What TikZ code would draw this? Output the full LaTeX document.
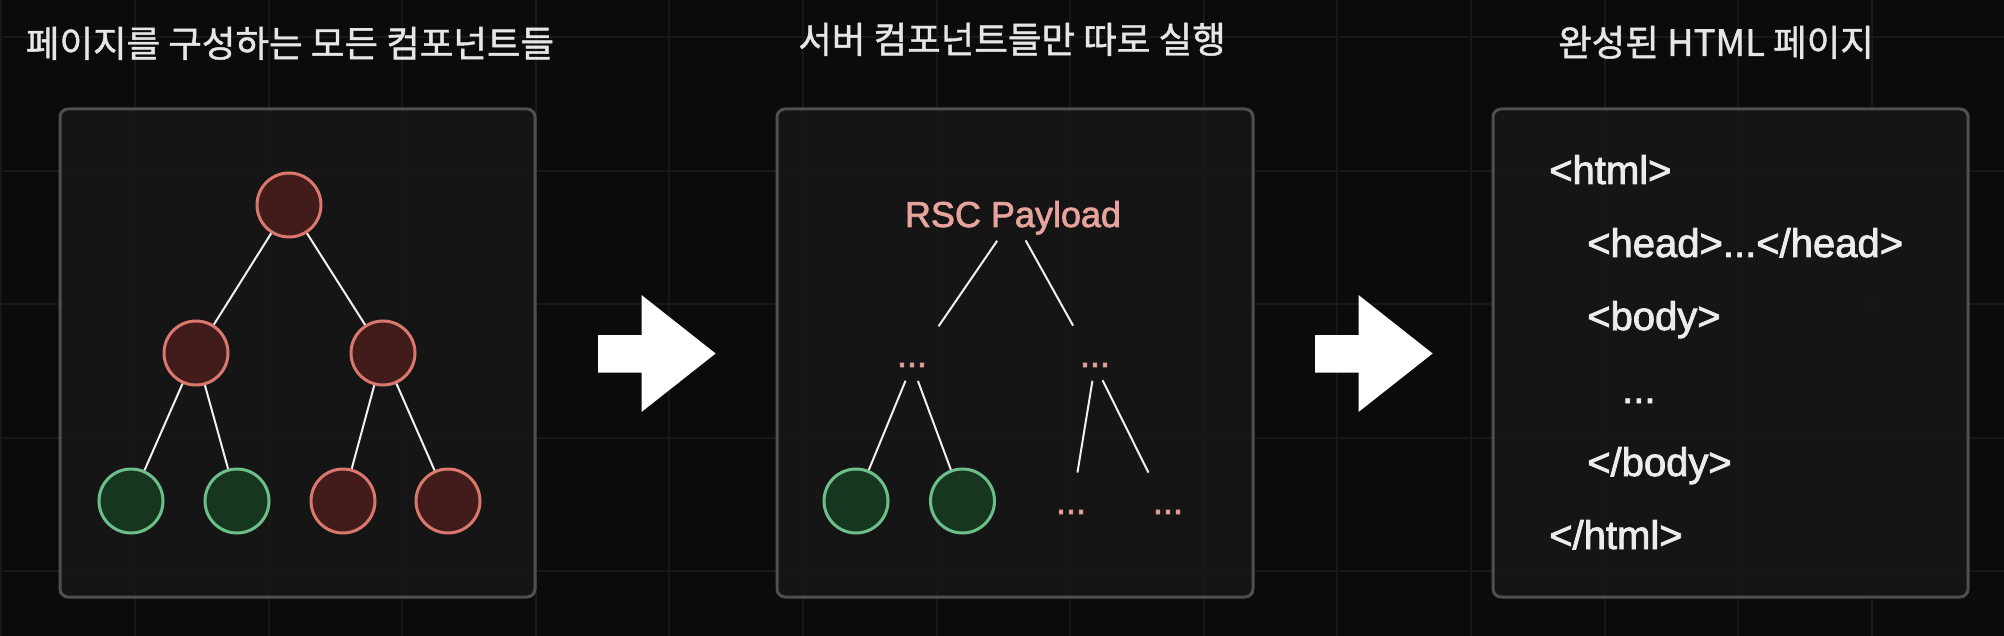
\documentclass[tikz,border=0pt]{standalone}
\usepackage{fontspec}
\setmainfont{Liberation Sans}[FakeBold=2]
\newfontfamily\krfont{Noto Sans CJK KR}[FakeBold=1.2]
\definecolor{bgcol}{HTML}{0B0B0B}
\definecolor{gridcol}{HTML}{181818}
\definecolor{panelfill}{HTML}{171717}
\definecolor{panelline}{HTML}{4F4F4F}
\definecolor{titlecol}{HTML}{E6E6E6}
\definecolor{codecol}{HTML}{ECECEC}
\definecolor{pinkcol}{HTML}{E8A39D}
\definecolor{redline}{HTML}{DA786D}
\definecolor{redfill}{HTML}{421C1A}
\definecolor{greenline}{HTML}{6DBF89}
\definecolor{greenfill}{HTML}{163620}
\tikzset{
  panel/.style={draw=panelline,line width=3pt,fill=panelfill,fill opacity=0.9,rounded corners=8pt},
  title/.style={text=titlecol,anchor=base,inner sep=0pt,font=\krfont\fontsize{36.5}{44}\selectfont},
  comp/.style={circle,draw=redline,fill=redfill,line width=3pt,minimum size=64pt,inner sep=0pt},
  srv/.style={comp,draw=greenline,fill=greenfill},
  edge/.style={draw=white!94!black,line width=2pt},
  payload/.style={text=pinkcol,font=\fontsize{36}{43}\selectfont},
  code/.style={text=codecol,anchor=base west,inner sep=0pt,font=\fontsize{40}{48}\selectfont},
  bigarrow/.style={fill=white}
}
\begin{document}
\begin{tikzpicture}[x=1pt,y=-1pt]
  \fill[bgcol] (0,0) rectangle (2004,636);
  \useasboundingbox (0,0) rectangle (2004,636);
  \draw[gridcol,line width=2pt,shift={(1.4,37)},step=133.6pt] (-1.4,599) grid (2002.6,-37);
  % titles
  \node[title] (t1) at (290,57) {페이지를 구성하는 모든 컴포넌트들};
  \node[title] (t2) at (1012,53) {서버 컴포넌트들만 따로 실행};
  \node[title] (t3) at (1716,56) {완성된 HTML 페이지};
  % panels
  \draw[panel] (60,109) rectangle (535,597);
  \draw[panel] (777,109) rectangle (1253,597);
  \draw[panel] (1493,109) rectangle (1968,597);
  % all components
  \node[comp] (root) at (289,205) {};
  \node[comp] (l) at (196,353) {};
  \node[comp] (r) at (383,353) {};
  \node[srv]  (ll) at (131,501) {};
  \node[srv]  (lr) at (237,501) {};
  \node[comp] (rl) at (343,501) {};
  \node[comp] (rr) at (448,501) {};
  \draw[edge] (root) -- (l);
  \draw[edge] (root) -- (r);
  \draw[edge] (l) -- (ll);
  \draw[edge] (l) -- (lr);
  \draw[edge] (r) -- (rl);
  \draw[edge] (r) -- (rr);
  % server components only
  \node[payload,anchor=base] (rsc) at (1013,227) {RSC Payload};
  \node[payload,inner sep=0pt] (ld) at (912,365) {...};
  \node[payload,inner sep=0pt] (rd) at (1095,365) {...};
  \node[srv] (g1) at (856,501) {};
  \node[srv] (g2) at (962.5,501) {};
  \node[payload,inner sep=0pt] (lb) at (1071,512) {...};
  \node[payload,inner sep=0pt] (rb) at (1168,512) {...};
  \draw[edge,shorten <=28pt,shorten >=47pt] (rsc.center) -- (ld.center);
  \draw[edge,shorten <=26pt,shorten >=45pt] (rsc.center) -- (rd.center);
  \draw[edge,shorten <=17pt] (ld.center) -- (g1);
  \draw[edge,shorten <=17pt] (ld.center) -- (g2);
  \draw[edge,shorten <=16pt,shorten >=40pt] (rd.center) -- (lb.center);
  \draw[edge,shorten <=17pt,shorten >=44pt] (rd.center) -- (rb.center);
  % html page
  \node[code] (l1) at (1549,184) {<html>};
  \node[code] (l2) at (1587,257) {<head>...</head>};
  \node[code] (l3) at (1587,330) {<body>};
  \node[code] (l4) at (1622,403) {...};
  \node[code] (l5) at (1587,476) {</body>};
  \node[code] (l6) at (1549,549) {</html>};
  % arrows
  \fill[bigarrow] (598,335) -- (641.5,335) -- (641.5,295) -- (715.6,353.5)
    -- (641.5,412) -- (641.5,372.5) -- (598,372.5) -- cycle;
  \begin{scope}[xshift=717pt]
   \fill[bigarrow] (598,335) -- (641.5,335) -- (641.5,295) -- (715.6,353.5)
     -- (641.5,412) -- (641.5,372.5) -- (598,372.5) -- cycle;
  \end{scope}
\end{tikzpicture}
\end{document}
